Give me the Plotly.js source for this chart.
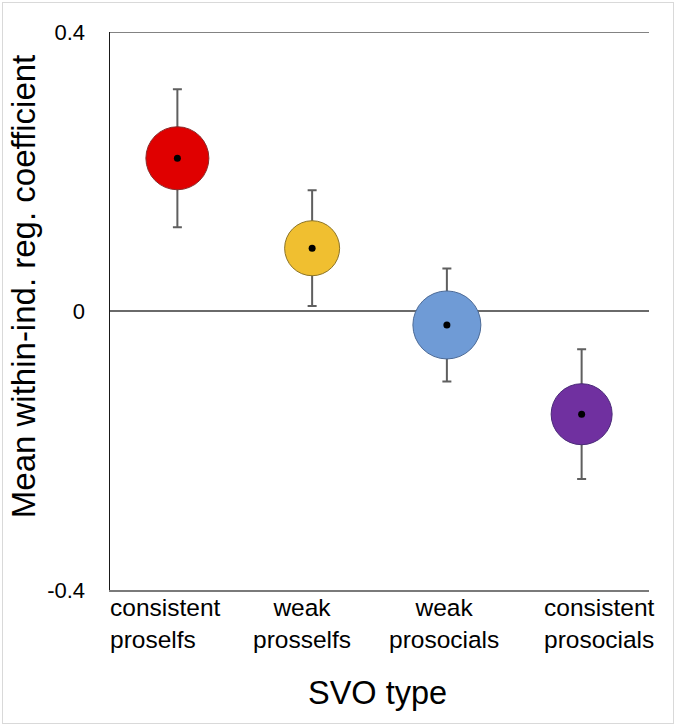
<!DOCTYPE html>
<html>
<head>
<meta charset="utf-8">
<script src="https://cdn.plot.ly/plotly-3.0.1.min.js"></script>
<style>
html,body{margin:0;padding:0;background:#fff;}
#wrap{position:relative;width:677px;height:727px;}
#chart{width:677px;height:727px;}
#frame{position:absolute;left:2px;top:2px;width:670px;height:720px;border:1.5px solid #d9d9d9;pointer-events:none;}
</style>
</head>
<body>
<div id="wrap"><div id="chart"></div><div id="frame"></div></div>
<script>
// ---- data ----
const categories = ['consistent proselfs', 'weak prosselfs', 'weak prosocials', 'consistent prosocials'];
const categoryLabels = ['consistent<br>proselfs', 'weak<br>prosselfs', 'weak<br>prosocials', 'consistent<br>prosocials'];
const meanCoef = [0.219, 0.090, -0.020, -0.148];
const errorCoef = [0.099, 0.083, 0.081, 0.093];
const yTickVals = [-0.4, 0, 0.4];
const yTickText = ['-0.4', '0', '0.4'];
const xTitle = 'SVO type';
const yTitle = 'Mean within-ind. reg. coefficient';

// ---- styles ----
const fillColors = ['#e00000', '#f0bf30', '#6f9bd6', '#7030a0'];
const edgeColors = ['#8a2a2a', '#8c7428', '#4c6a96', '#4a2a78'];
const circleSizes = [63, 55, 68, 61];
const labelShift = [-12, -10, -3, 18];
const labelAlign = ['left', 'center', 'center', 'center'];

const FONT = 'Liberation Sans, Arial, sans-serif';

const traces = [
  {
    type: 'scatter', mode: 'markers',
    x: categories, y: meanCoef,
    error_y: {type: 'data', array: errorCoef, visible: true, color: '#5f5f5f', thickness: 2, width: 4.5},
    marker: {size: circleSizes, color: fillColors, opacity: 1, line: {color: edgeColors, width: 1}},
    hoverinfo: 'x+y', showlegend: false
  },
  {
    type: 'scatter', mode: 'markers',
    x: categories, y: meanCoef,
    marker: {size: 7, color: '#000', opacity: 1},
    hoverinfo: 'skip', showlegend: false
  }
];

const catAnnotations = categories.map((c, i) => ({
  text: categoryLabels[i], xref: 'x', yref: 'paper', x: c, y: 0,
  xanchor: 'center', yanchor: 'top', align: labelAlign[i],
  xshift: labelShift[i], yshift: -2, showarrow: false,
  font: {size: 24.5, color: '#000', family: FONT}
}));

const layout = {
  width: 677, height: 727,
  margin: {l: 110, r: 28, t: 32, b: 137},
  paper_bgcolor: '#fff', plot_bgcolor: '#fff',
  font: {family: FONT, color: '#000'},
  xaxis: {
    type: 'category',
    range: [-0.5, 3.5],
    showticklabels: false,
    ticks: '', showgrid: false, zeroline: false,
    showline: true, linecolor: '#7a7a7a', linewidth: 1.5,
    fixedrange: true
  },
  yaxis: {
    range: [-0.4, 0.4],
    tickmode: 'array', tickvals: yTickVals, ticktext: yTickText,
    tickfont: {size: 22, color: '#000', family: FONT},
    ticks: '', showgrid: true, gridcolor: '#5a5a5a', gridwidth: 1.5,
    zeroline: true, zerolinecolor: '#6a6a6a', zerolinewidth: 1.5,
    showline: true, linecolor: '#1a1a1a', linewidth: 1.5,
    ticklabelstandoff: 19,
    fixedrange: true
  },
  shapes: [
    {type: 'line', xref: 'paper', yref: 'y', x0: 0, x1: 1,
     y0: yTickVals[yTickVals.length - 1], y1: yTickVals[yTickVals.length - 1],
     line: {color: '#5a5a5a', width: 1.5}, layer: 'below'}
  ],
  annotations: [
    {text: yTitle, xref: 'paper', yref: 'paper', x: -0.16, y: 0.544,
     xanchor: 'center', yanchor: 'middle', textangle: -90, showarrow: false,
     font: {size: 33, color: '#000', family: FONT}},
    {text: xTitle, xref: 'paper', yref: 'paper', x: 0.497, y: -0.1846,
     xanchor: 'center', yanchor: 'middle', showarrow: false,
     font: {size: 32.5, color: '#000', family: FONT}}
  ].concat(catAnnotations)
};

Plotly.newPlot('chart', traces, layout, {displayModeBar: false, staticPlot: true});
</script>
</body>
</html>
